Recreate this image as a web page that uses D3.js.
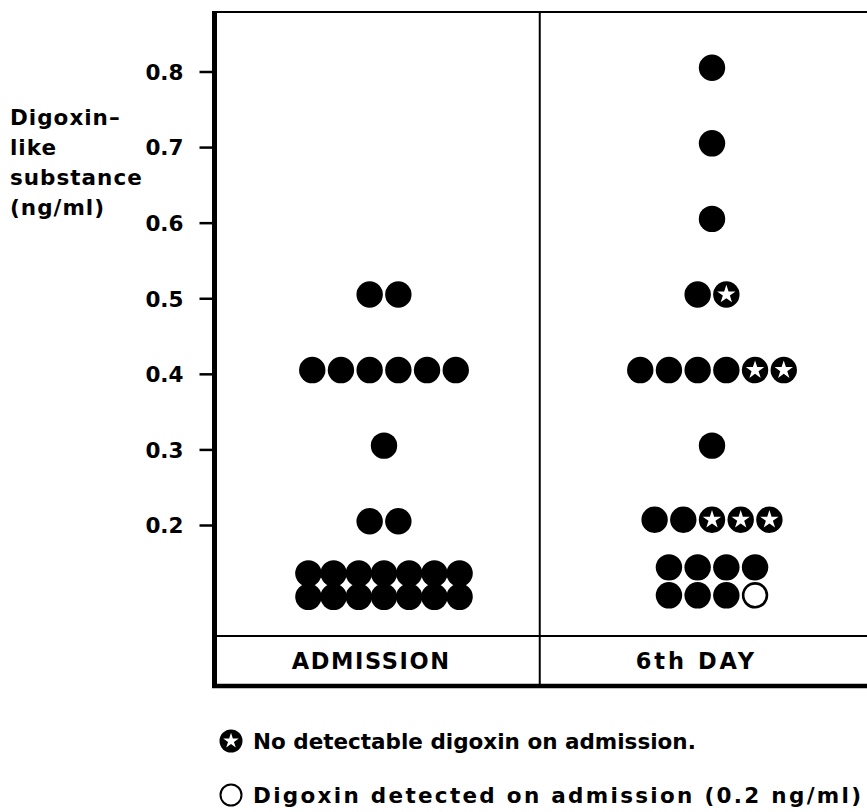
<!DOCTYPE html>
<html>
<head>
<meta charset="utf-8">
<script src="https://cdn.jsdelivr.net/npm/d3@7"></script>
<style>
  html, body { margin: 0; padding: 0; background: #fff; }
  svg { display: block; }
  text { font-family: "DejaVu Sans", sans-serif; font-weight: bold; fill: #000; }
</style>
</head>
<body>
<svg id="chart" width="867" height="812"></svg>
<script>
// ---- data ----
const categories = ["ADMISSION", "6th DAY"];
const tickValues = [0.2, 0.3, 0.4, 0.5, 0.6, 0.7, 0.8];
const tickLabels = ["0.2", "0.3", "0.4", "0.5", "0.6", "0.7", "0.8"];
const yTitleLines = ["Digoxin\u2013", "like", "substance", "(ng/ml)"];

const admissionValues = [0.505, 0.405, 0.305, 0.205, 0.136, 0.105];
const admissionCounts = [2, 6, 1, 2, 7, 7];

const sixthDayValues = [0.805, 0.705, 0.605, 0.505, 0.405, 0.305, 0.207, 0.144, 0.107];
const sixthDayCounts = [1, 1, 1, 2, 6, 1, 5, 4, 4];
const sixthDayStars  = [0, 0, 0, 1, 2, 0, 3, 0, 0]; // rightmost dots in a row
const sixthDayOpen   = [0, 0, 0, 0, 0, 0, 0, 0, 1]; // rightmost dots in a row

const legendLabels = [
  "No detectable digoxin on admission.",
  "Digoxin detected on admission (0.2 ng/ml)"
];

// ---- layout ----
const svg = d3.select("#chart");
const axisX = 214.5, frameTop = 12, boxTop = 636, frameBottom = 686, frameRight = 870;
const dotR = 13.2;

const y = d3.scaleLinear().domain([0.2, 0.8]).range([525, 71.5]);
const xCell = d3.scaleBand().domain(categories).range([axisX, 865]);
const xDot = d3.scalePoint().domain(categories).range([384, 712]);

// build dot records
function buildDots(cat, values, counts, stars, opens) {
  const out = [];
  values.forEach((v, i) => {
    const n = counts[i];
    const spacing = (cat === categories[0] && v < 0.15) ? 25.2 : 28.7;
    const nStar = stars ? stars[i] : 0;
    const nOpen = opens ? opens[i] : 0;
    for (let k = 0; k < n; k++) {
      let kind = "solid";
      if (k >= n - nOpen) kind = "open";
      else if (k >= n - nOpen - nStar) kind = "star";
      out.push({cat, value: v, offset: (k - (n - 1) / 2) * spacing, kind});
    }
  });
  return out;
}
const dots = buildDots(categories[0], admissionValues, admissionCounts, null, null)
  .concat(buildDots(categories[1], sixthDayValues, sixthDayCounts, sixthDayStars, sixthDayOpen));

// frame lines
const g = svg.append("g");
g.append("line").attr("x1", axisX).attr("x2", frameRight).attr("y1", frameTop).attr("y2", frameTop)
  .attr("stroke", "#000").attr("stroke-width", 2);
g.append("line").attr("x1", axisX).attr("x2", frameRight).attr("y1", boxTop).attr("y2", boxTop)
  .attr("stroke", "#000").attr("stroke-width", 2);
g.append("line").attr("x1", xCell(categories[1])).attr("x2", xCell(categories[1]))
  .attr("y1", frameTop).attr("y2", frameBottom).attr("stroke", "#000").attr("stroke-width", 2);
g.append("line").attr("x1", axisX - 2.5).attr("x2", frameRight).attr("y1", frameBottom).attr("y2", frameBottom)
  .attr("stroke", "#000").attr("stroke-width", 4.5);
g.append("line").attr("x1", axisX).attr("x2", axisX).attr("y1", frameTop - 1).attr("y2", frameBottom + 2)
  .attr("stroke", "#000").attr("stroke-width", 5);

// y axis ticks
const axis = d3.axisLeft(y).tickValues(tickValues)
  .tickFormat((d, i) => tickLabels[i]).tickSize(15).tickPadding(16);
const ax = svg.append("g").attr("transform", `translate(${axisX},0)`).call(axis);
ax.select(".domain").remove();
ax.selectAll(".tick line").attr("stroke", "#000").attr("stroke-width", 2.5);
ax.selectAll(".tick text").attr("font-size", 21.5).attr("font-family", "DejaVu Sans")
  .attr("font-weight", "bold").attr("dy", "0.36em").attr("fill", "#000");

// y title
svg.append("g").selectAll("text").data(yTitleLines).join("text")
  .attr("x", 10).attr("y", (d, i) => 125 + i * 30)
  .attr("font-size", 21.5).attr("letter-spacing", 1).text(d => d);

// category labels
svg.append("g").selectAll("text").data(categories).join("text")
  .attr("x", d => xCell(d) + xCell.bandwidth() / 2 - 6)
  .attr("y", 669).attr("text-anchor", "middle")
  .attr("font-size", 22.5).attr("letter-spacing", (d, i) => i === 0 ? 1.6 : 3).text(d => d);

// dots
const starPath = d3.symbol().type(d3.symbolStar).size(105)();
const dg = svg.append("g");
const nodes = dg.selectAll("g").data(dots).join("g")
  .attr("transform", d => `translate(${xDot(d.cat) + d.offset},${y(d.value)})`);
nodes.append("circle")
  .attr("r", d => d.kind === "open" ? dotR - 1.3 : dotR)
  .attr("fill", d => d.kind === "open" ? "#fff" : "#000")
  .attr("stroke", "#000").attr("stroke-width", d => d.kind === "open" ? 2.6 : 0);
nodes.filter(d => d.kind === "star").append("path")
  .attr("d", starPath).attr("fill", "#fff");

// legend
const legend = svg.append("g");
const legendY = [741, 795];
const lg = legend.selectAll("g").data(legendLabels).join("g")
  .attr("transform", (d, i) => `translate(231,${legendY[i]})`);
lg.append("circle").attr("r", (d, i) => i === 0 ? 11.5 : 10.5)
  .attr("fill", (d, i) => i === 0 ? "#000" : "#fff")
  .attr("stroke", "#000").attr("stroke-width", (d, i) => i === 0 ? 0 : 2);
lg.filter((d, i) => i === 0).append("path")
  .attr("d", d3.symbol().type(d3.symbolStar).size(75)()).attr("fill", "#fff");
lg.append("text").attr("x", 22).attr("y", 8)
  .attr("font-size", 21.5)
  .attr("letter-spacing", (d, i) => i === 0 ? 0 : 2.3)
  .text(d => d);
</script>
</body>
</html>
